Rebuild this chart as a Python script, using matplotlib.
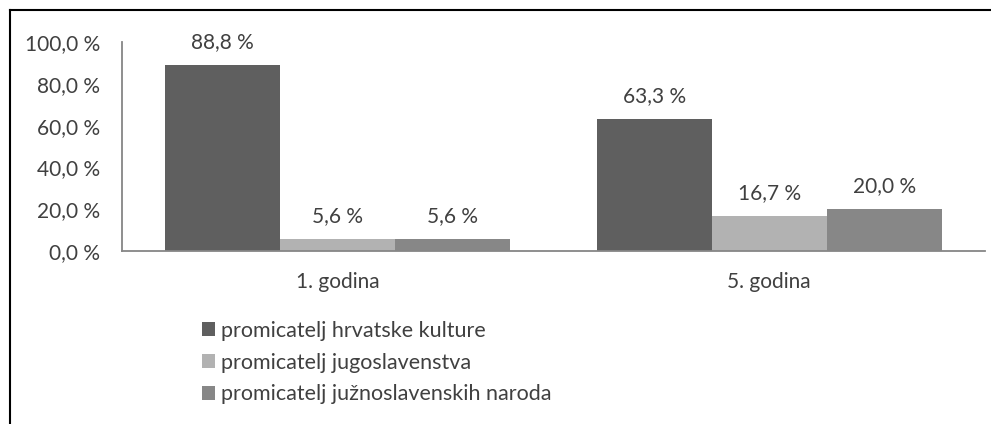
import matplotlib
matplotlib.use("Agg")
import matplotlib.pyplot as plt
from matplotlib.patches import Patch
from matplotlib.lines import Line2D
import numpy as np

categories = ["1. godina", "5. godina"]
series_names = ["promicatelj hrvatske kulture",
                "promicatelj jugoslavenstva",
                "promicatelj južnoslavenskih naroda"]
hrvatske = [88.8, 63.3]
jugoslavenstva = [5.6, 16.7]
juznoslavenskih = [5.6, 20.0]
yticks = [0, 20, 40, 60, 80, 100]

colors = ["#5f5f5f", "#b2b2b2", "#878787"]
text_col = "#404040"
axis_col = "#868686"

plt.rcParams['font.family'] = ['Lato', 'DejaVu Sans']

W, H = 991, 424
fig = plt.figure(figsize=(W / 100, H / 100), dpi=100)
ax = fig.add_axes([122 / W, 173 / H, (985 - 122) / W, (251 - 42) / H])

x = np.arange(len(categories))
width = 0.2667
values = [hrvatske, jugoslavenstva, juznoslavenskih]
for i, (vals, name) in enumerate(zip(values, series_names)):
    bars = ax.bar(x + (i - 1) * width, vals, width, color=colors[i], label=name)
    for b, v in zip(bars, vals):
        ax.annotate(f"{v:.1f} %".replace(".", ","),
                    (b.get_x() + b.get_width() / 2, v),
                    xytext=(0, 16.5), textcoords="offset points",
                    ha="center", va="center", fontsize=15, color=text_col)

ax.set_xlim(-0.5, 1.5)
ax.set_ylim(0, 100)
ax.set_yticks(yticks)
ax.set_yticklabels([f"{t:.1f} %".replace(".", ",") for t in yticks])
ax.set_xticks(x)
ax.set_xticklabels(categories)
ax.tick_params(axis="both", length=0, labelsize=15, labelcolor=text_col)
ax.tick_params(axis="y", pad=16)
ax.tick_params(axis="x", pad=15)
for s in ["top", "right"]:
    ax.spines[s].set_visible(False)
for s in ["left", "bottom"]:
    ax.spines[s].set_color(axis_col)
    ax.spines[s].set_linewidth(1.3)

handles = [Patch(facecolor=c) for c in colors]
leg = fig.legend(handles, series_names, loc="upper left",
                 bbox_to_anchor=(191 / W, 1 - 310 / H),
                 frameon=False, fontsize=15.5, handlelength=0.6, handleheight=0.6,
                 handletextpad=0.3, labelspacing=0.55, borderpad=0)
for t in leg.get_texts():
    t.set_color(text_col)

# frame around the chart (only top and left visible in the crop)
fig.add_artist(Line2D([9.5 / W, 9.5 / W], [0, 1 - 10 / H], transform=fig.transFigure,
                      color="black", linewidth=1.5))
fig.add_artist(Line2D([9.5 / W, 1], [1 - 10 / H, 1 - 10 / H], transform=fig.transFigure,
                      color="black", linewidth=1.5))

fig.savefig("out.png", dpi=100)
